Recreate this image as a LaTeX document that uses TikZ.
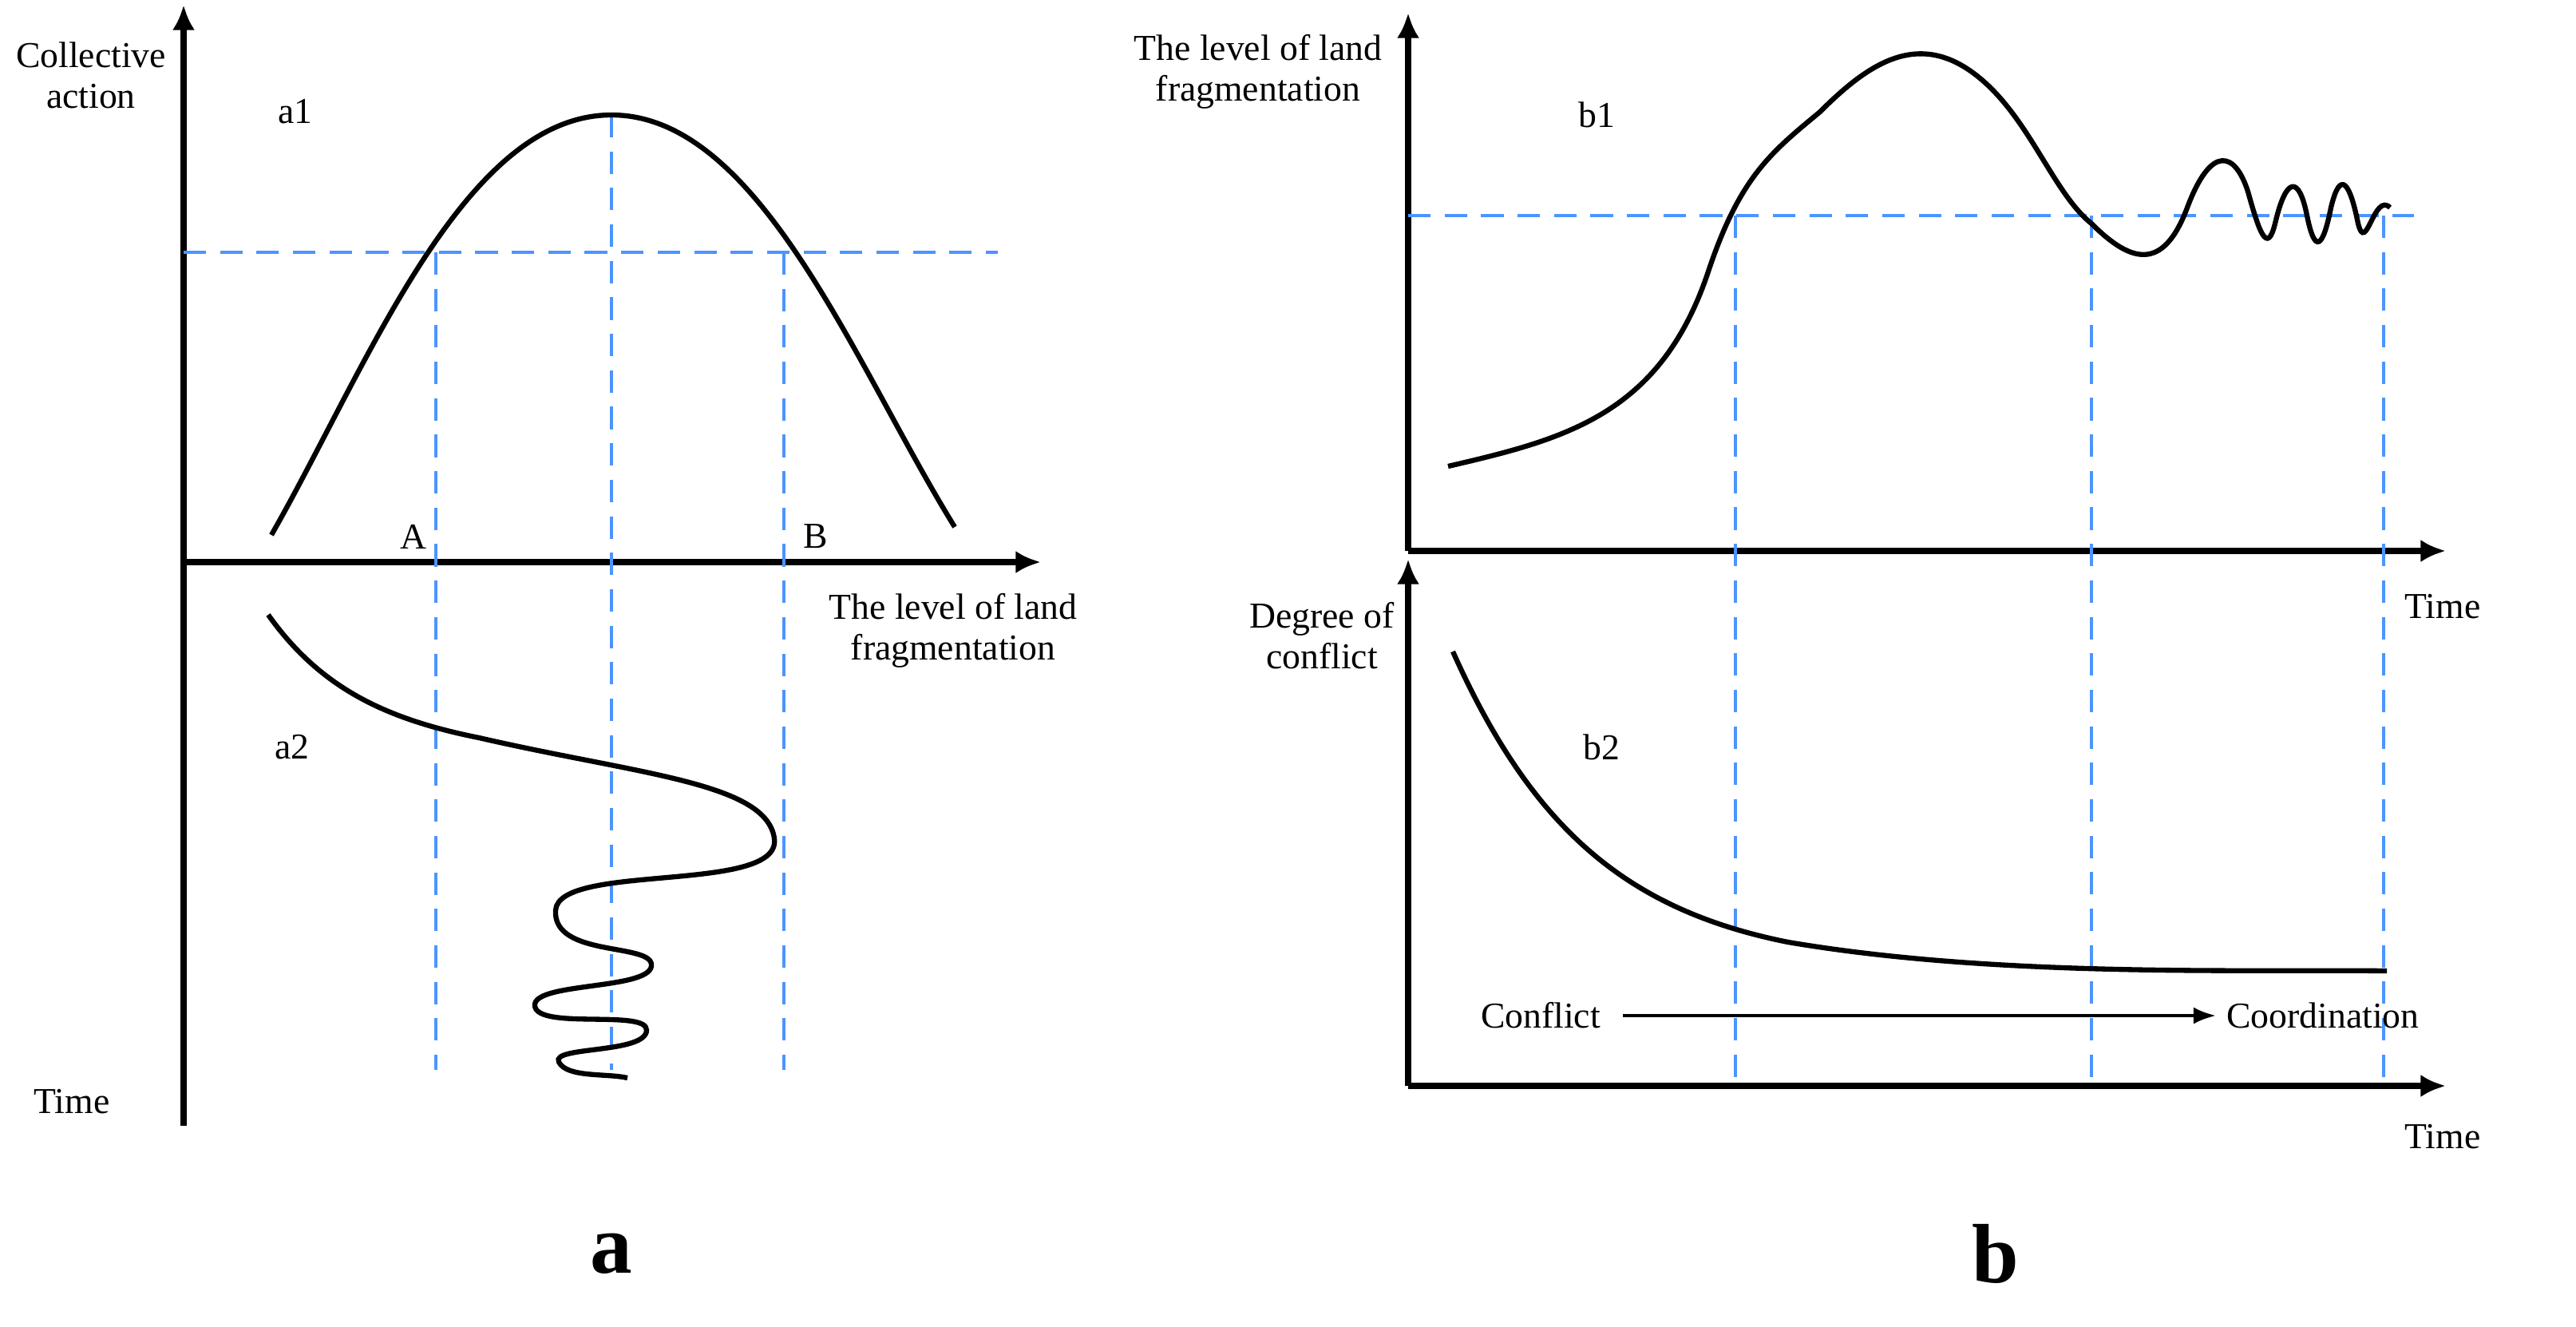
\documentclass[tikz,border=0pt]{standalone}
\usepackage{fontspec}
\setmainfont{Liberation Serif}
\usetikzlibrary{arrows.meta}
\begin{document}
\begin{tikzpicture}[x=0.02cm,y=-0.02cm,
 ax/.style={line width=2.2pt,-{Latex[length=9pt,width=8pt]}},
 dsh/.style={draw=blue!60!cyan!70!white,line width=1.2pt,dash pattern=on 8pt off 5pt},
 crv/.style={line width=1.8pt},
 lab/.style={font=\fontsize{13}{14.5}\selectfont,align=center},
 big/.style={font=\fontsize{30}{32}\selectfont\bfseries}]
\useasboundingbox (0,0) rectangle (1613.5,830.5);
% panel a
\coordinate (ao) at (115,352);
\coordinate (atop) at (115,3);
\coordinate (abot) at (115,705);
\coordinate (aright) at (652,352);
\draw[line width=2.2pt] (ao) -- (abot);
\draw[ax] (ao) -- (atop);
\draw[ax] (ao) -- (aright);
\draw[dsh] (115,158) -- (625,158);
\draw[dsh] (273,158) -- (273,670);
\draw[dsh] (383,72) -- (383,670);
\draw[dsh] (491,158) -- (491,670);
\draw[crv] (170,335) .. controls (230,230) and (290,72) .. (383,72) .. controls (476,72) and (536,230) .. (598,330);
\draw[crv] (168,385) .. controls (200,430) and (240,450) .. (300,462)
 .. controls (400,485) and (480,490) .. (485,525)
 .. controls (490,560) and (350,540) .. (348,570)
 .. controls (346,600) and (410,590) .. (408,605)
 .. controls (406,620) and (333,615) .. (335,630)
 .. controls (337,645) and (405,632) .. (405,645)
 .. controls (405,660) and (345,655) .. (350,665)
 .. controls (355,675) and (380,672) .. (393,675);
\node[lab] (ca) at (57,47) {Collective\\action};
\node[lab] (a1) at (185,70) {a1};
\node[lab] (a2) at (183,468) {a2};
\node[lab] (A) at (259,336) {A};
\node[lab] (B) at (511,336) {B};
\node[lab] (lf) at (597,395) {The level of land\\fragmentation};
\node[lab] (ta) at (45,690) {Time};
\node[big] (la) at (383,785) {a};
% panel b
\coordinate (bo) at (882,345);
\coordinate (btop) at (882,8);
\coordinate (bright) at (1532,345);
\draw[ax] (bo) -- (btop);
\draw[ax] (bo) -- (bright);
\coordinate (co) at (882,680);
\coordinate (ctop) at (882,350);
\coordinate (cright) at (1532,680);
\draw[ax] (co) -- (ctop);
\draw[ax] (co) -- (cright);
\draw[dsh] (882,135) -- (1512,135);
\draw[dsh] (1087,135) -- (1087,680);
\draw[dsh] (1310,135) -- (1310,680);
\draw[dsh] (1493,135) -- (1493,680);
\draw[crv] (907,292) .. controls (980,275) and (1040,260) .. (1070,170)
 .. controls (1090,110) and (1110,95) .. (1140,70)
 .. controls (1170,40) and (1200,20) .. (1235,45)
 .. controls (1270,70) and (1285,120) .. (1310,140)
 .. controls (1335,165) and (1355,170) .. (1370,130)
 .. controls (1385,90) and (1400,95) .. (1408,120)
 .. controls (1415,145) and (1420,160) .. (1425,140)
 .. controls (1432,110) and (1440,110) .. (1445,135)
 .. controls (1450,160) and (1455,155) .. (1460,130)
 .. controls (1466,105) and (1472,115) .. (1477,140)
 .. controls (1482,160) and (1487,120) .. (1497,130);
\draw[crv] (910,408) .. controls (960,520) and (1020,570) .. (1120,590)
 .. controls (1250,612) and (1400,607) .. (1495,608);
\node[lab] (bl) at (788,45) {The level of land\\fragmentation};
\node[lab] (b1) at (1000,72) {b1};
\node[lab] (tb1) at (1530,380) {Time};
\node[lab] (dc) at (828,398) {Degree of\\conflict};
\node[lab] (b2) at (1003,468) {b2};
\node[lab] (conf) at (965,636) {Conflict};
\node[lab] (coord) at (1455,636) {Coordination};
\draw[line width=1.2pt,-{Latex[length=8pt]}] (conf.east) ++(8,0) coordinate (cs) -- (1388,636) coordinate (ce);
\node[lab] (tb2) at (1530,712) {Time};
\node[big] (lb) at (1250,785) {b};
\end{tikzpicture}
\end{document}
